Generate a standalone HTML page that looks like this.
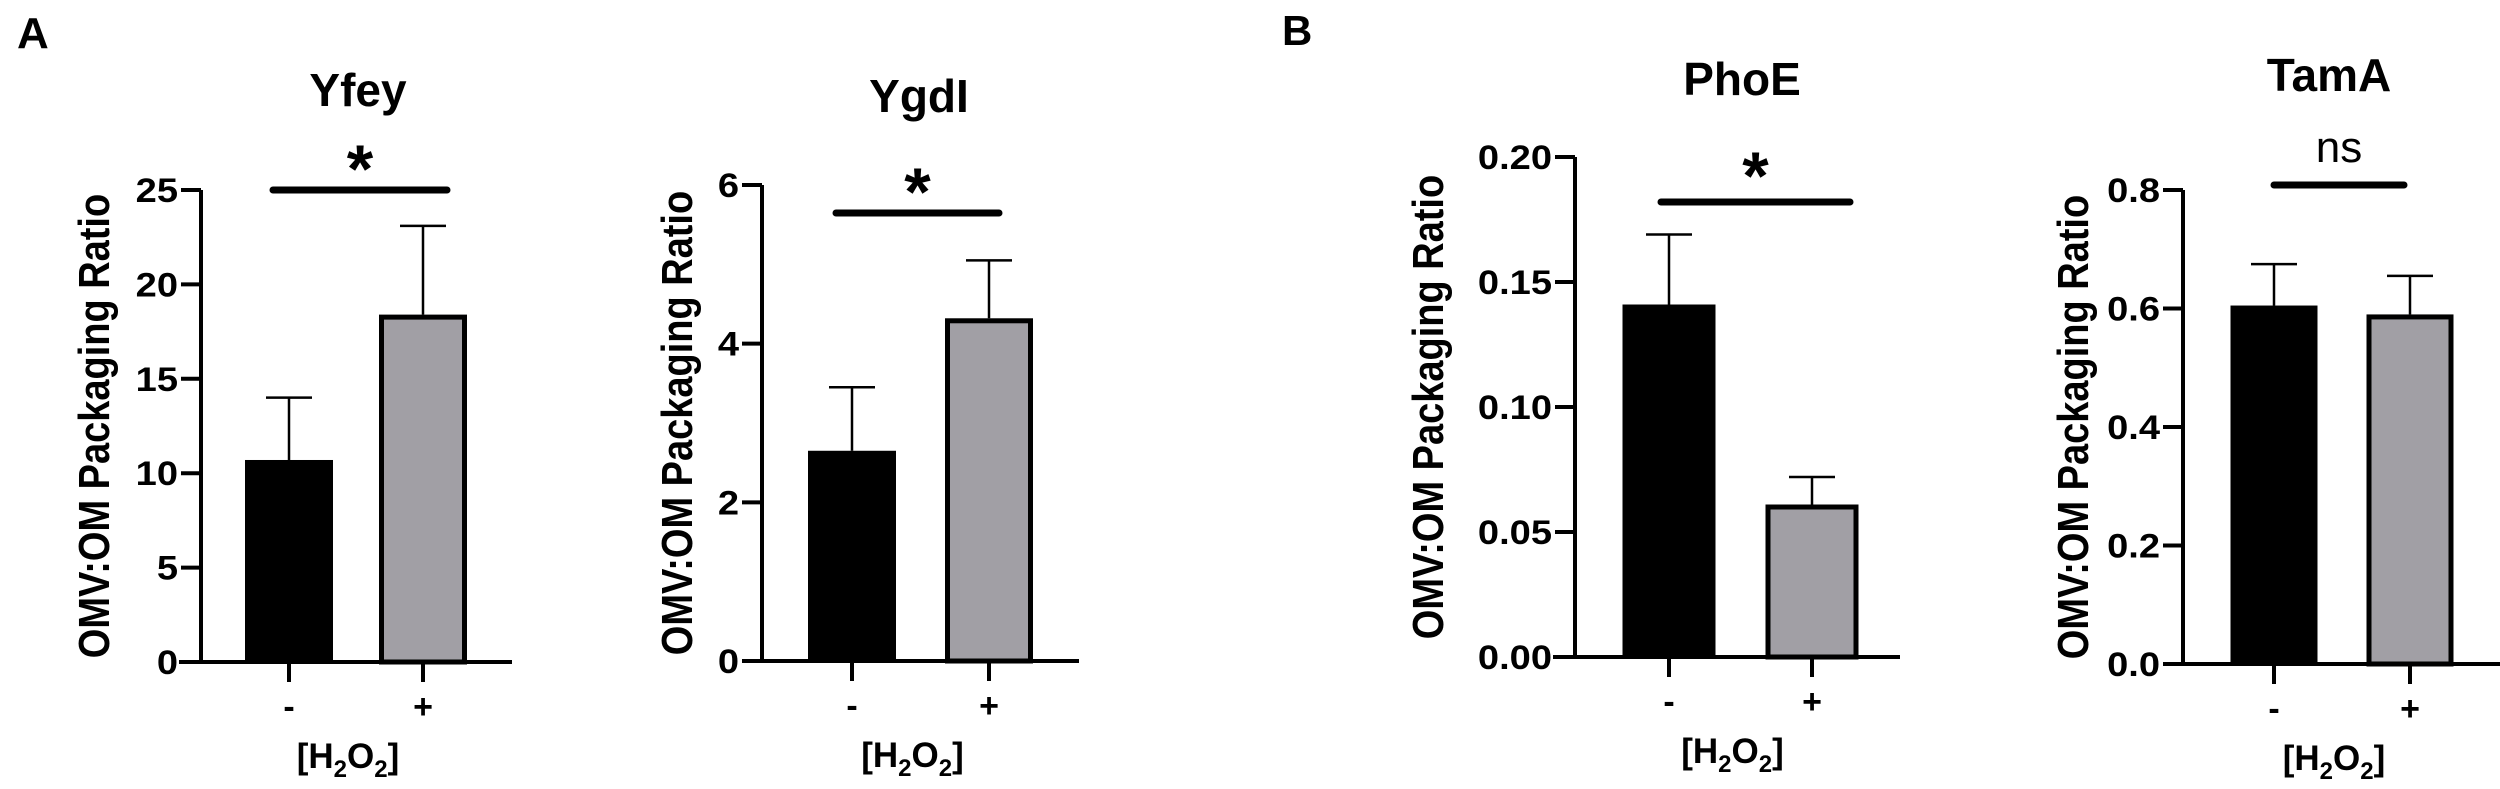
<!DOCTYPE html>
<html><head><meta charset="utf-8"><style>
html,body{margin:0;padding:0;background:#fff;}
svg{display:block;font-family:"Liberation Sans",Arial,sans-serif;font-weight:bold;}
</style></head><body>
<svg id="fig" width="2500" height="789" viewBox="0 0 2500 789" xmlns="http://www.w3.org/2000/svg">
<text x="17" y="48" font-size="44">A</text>
<text x="1282" y="45" font-size="42">B</text>
</svg>
<script>
const categories = ["-", "+"];
const titles = ["Yfey", "YgdI", "PhoE", "TamA"];
const yfeyMeans = [10.7, 18.4];
const yfeyErrors = [3.3, 4.7];
const ygdiMeans = [2.65, 4.32];
const ygdiErrors = [0.8, 0.73];
const phoeMeans = [0.141, 0.061];
const phoeErrors = [0.028, 0.011];
const tamaMeans = [0.605, 0.59];
const tamaErrors = [0.07, 0.065];
const yfeyTicks = ["0", "5", "10", "15", "20", "25"];
const ygdiTicks = ["0", "2", "4", "6"];
const phoeTicks = ["0.00", "0.05", "0.10", "0.15", "0.20"];
const tamaTicks = ["0.0", "0.2", "0.4", "0.6", "0.8"];
const sigLabels = ["*", "*", "*", "ns"];

const NS = "http://www.w3.org/2000/svg";
const svg = document.getElementById('fig');
function mk(tag, attrs, parent) {
  const e = document.createElementNS(NS, tag);
  for (const k in attrs) e.setAttribute(k, attrs[k]);
  (parent || svg).appendChild(e);
  return e;
}
const layouts = [
  {ax:201, top:190, zero:662, xl:179, xr:512, bx:[289,423], bw:88, title:[358,106], star:160, sig:[273,447,190], yl:94, max:25},
  {ax:762, top:185, zero:661, xl:742, xr:1079, bx:[852,989], bw:88, title:[919,112], star:183, sig:[836,999,213], yl:677, max:6},
  {ax:1575, top:157, zero:657, xl:1553, xr:1900, bx:[1669,1812], bw:93, title:[1742,95], star:167, sig:[1661,1850,202], yl:1428, max:0.2},
  {ax:2183, top:190, zero:664, xl:2163, xr:2500, bx:[2274,2410], bw:87, title:[2329,91], star:150, sig:[2274,2404,185], yl:2073, max:0.8}
];
const means = [yfeyMeans, ygdiMeans, phoeMeans, tamaMeans];
const errs = [yfeyErrors, ygdiErrors, phoeErrors, tamaErrors];
const ticks = [yfeyTicks, ygdiTicks, phoeTicks, tamaTicks];
const slugs = ["yfey", "ygdi", "phoe", "tama"];

layouts.forEach((L, p) => {
  const g = mk('g', {});
  
  
  const y = v => L.zero - (v / L.max) * (L.zero - L.top);
  const t = mk('text', {x:L.title[0], y:L.title[1], 'font-size':46, 'text-anchor':'middle'}, g);
  t.textContent = titles[p];
  
  
  means[p].forEach((m, i) => {
    const cx = L.bx[i];
    const eb = mk('g', {}, g);
    
    
    const ey = y(m + errs[p][i]);
    mk('line', {x1:cx, x2:cx, y1:y(m), y2:ey, stroke:'#000', 'stroke-width':2.5}, eb);
    mk('line', {x1:cx-23, x2:cx+23, y1:ey, y2:ey, stroke:'#000', 'stroke-width':2.5}, eb);
    let r;
    if (i === 0) {
      r = mk('rect', {x:cx-L.bw/2, y:y(m), width:L.bw, height:L.zero-y(m), fill:'#000'}, g);
    } else {
      r = mk('rect', {x:cx-L.bw/2+2.5, y:y(m)+2.5, width:L.bw-5, height:L.zero-y(m)-2.5, fill:'#a19fa5', stroke:'#000', 'stroke-width':5}, g);
    }
    
    
    mk('line', {x1:cx, x2:cx, y1:L.zero, y2:L.zero+20, stroke:'#000', 'stroke-width':4}, g);
    const xl = mk('text', {x:cx, y:L.zero+56, 'font-size':34, 'text-anchor':'middle'}, g);
    xl.textContent = categories[i];
    
    
  });
  const ya = mk('line', {x1:L.ax, x2:L.ax, y1:L.top, y2:L.zero+2, stroke:'#000', 'stroke-width':4}, g);
  
  
  const xa = mk('line', {x1:L.xl, x2:L.xr, y1:L.zero, y2:L.zero, stroke:'#000', 'stroke-width':4}, g);
  
  
  ticks[p].forEach(lbl => {
    const v = parseFloat(lbl);
    const ty = y(v);
    mk('line', {x1:L.ax-20, x2:L.ax, y1:ty, y2:ty, stroke:'#000', 'stroke-width':4}, g);
    const tl = mk('text', {x:0, y:0, 'font-size':34, 'text-anchor':'end', transform:'translate('+(L.ax-23)+' '+(ty+12)+') scale(1.12 1)'}, g);
    tl.textContent = lbl;
    
    
  });
  const mid = (L.top + L.zero) / 2;
  const yt = mk('text', {x:0, y:0, 'font-size':38, 'text-anchor':'middle', 'dominant-baseline':'central', transform:'translate('+L.yl+' '+mid+') scale(1.15 1) rotate(-90)'}, g);
  yt.textContent = 'OMV:OM Packaging Ratio';
  
  
  const xt = mk('text', {x:(L.bx[0]+L.bx[1])/2 - 8, y:L.zero+106, 'font-size':35, 'text-anchor':'middle'}, g);
  xt.innerHTML = '[H<tspan font-size="24" dy="9">2</tspan><tspan dy="-9">O</tspan><tspan font-size="24" dy="9">2</tspan><tspan dy="-9">]</tspan>';
  
  
  const sl = mk('line', {x1:L.sig[0], x2:L.sig[1], y1:L.sig[2], y2:L.sig[2], stroke:'#000', 'stroke-width':7, 'stroke-linecap':'round'}, g);
  
  
  const isStar = sigLabels[p] === '*';
  const st = mk('text', {x:(L.sig[0]+L.sig[1])/2, y:isStar ? L.star+32 : L.star+12, 'font-size':isStar ? 68 : 44, 'text-anchor':'middle', 'font-weight':isStar ? 'bold' : 'normal'}, g);
  st.textContent = sigLabels[p];
  
  
});
</script>
</body></html>
